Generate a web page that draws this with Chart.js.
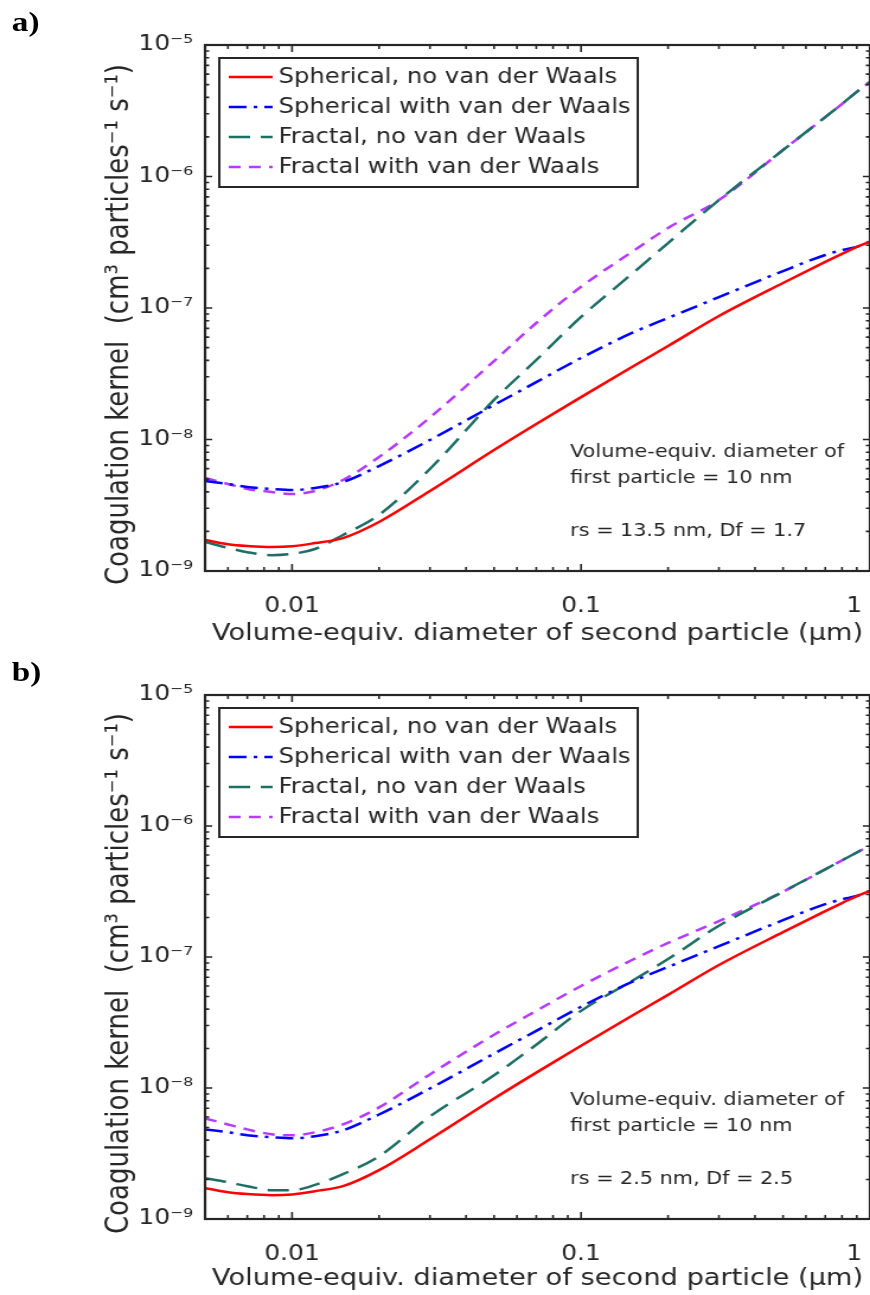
<!DOCTYPE html>
<html>
<head>
<meta charset="utf-8">
<script src="https://cdn.jsdelivr.net/npm/chart.js@4.4.1/dist/chart.umd.min.js"></script>
<style>
  html, body { margin: 0; padding: 0; background: #fff; overflow: hidden; }
  /* the source figure is stretched horizontally, so the whole page is drawn narrow and scaled */
  #fig { position: relative; width: 734px; height: 1295px; transform: scaleX(1.1853); transform-origin: 0 0; }
  .panel { position: absolute; left: 0; }
  .tag { position: absolute; left: 10px; font: bold 28px 'Liberation Serif', serif; color: #000; }
</style>
</head>
<body>
<div id="fig">
  <canvas id="chartA" class="panel" style="top:0" width="734" height="650"></canvas>
  <div class="tag" style="top:6px">a)</div>
  <canvas id="chartB" class="panel" style="top:650px" width="734" height="645"></canvas>
  <div class="tag" style="top:656px">b)</div>
</div>
<script>
const AXIS_COLOR = '#262626';
const FONT = "'DejaVu Sans', sans-serif";

// volume-equivalent diameter of the second particle (um)
const diameters = [0.005, 0.006, 0.007, 0.0085, 0.01, 0.012, 0.015, 0.02, 0.03, 0.05,
                   0.07, 0.1, 0.15, 0.2, 0.3, 0.5, 0.7, 0.8, 0.9, 1.0];

// coagulation kernel (cm3 particles-1 s-1), same spherical curves in both panels
const sphericalNoVdw = [1.72e-9, 1.60e-9, 1.55e-9, 1.52e-9, 1.54e-9, 1.63e-9, 1.78e-9, 2.36e-9, 4.06e-9, 8.31e-9,
                        1.31e-8, 2.10e-8, 3.56e-8, 5.14e-8, 8.69e-8, 1.55e-7, 2.24e-7, 2.58e-7, 2.92e-7, 3.20e-7];
const sphericalVdw = [4.83e-9, 4.59e-9, 4.36e-9, 4.21e-9, 4.13e-9, 4.28e-9, 4.75e-9, 6.28e-9, 9.91e-9, 1.83e-8,
                      2.73e-8, 4.17e-8, 6.46e-8, 8.40e-8, 1.21e-7, 1.91e-7, 2.53e-7, 2.76e-7, 2.92e-7, 3.20e-7];

// panel a: rs = 13.5 nm, Df = 1.7
const fractalNoVdwA = [1.66e-9, 1.50e-9, 1.39e-9, 1.32e-9, 1.35e-9, 1.47e-9, 1.88e-9, 2.67e-9, 5.97e-9, 2.00e-8,
                       4.02e-8, 8.55e-8, 1.82e-7, 3.12e-7, 6.62e-7, 1.59e-6, 2.83e-6, 3.56e-6, 4.40e-6, 5.24e-6];
const fractalVdwA = [5.09e-9, 4.59e-9, 4.21e-9, 3.99e-9, 3.85e-9, 4.06e-9, 4.92e-9, 7.36e-9, 1.47e-8, 3.95e-8,
                     7.69e-8, 1.45e-7, 2.67e-7, 4.06e-7, 6.62e-7, 1.59e-6, 2.83e-6, 3.56e-6, 4.40e-6, 5.24e-6];

// panel b: rs = 2.5 nm, Df = 2.5
const fractalNoVdwB = [2.05e-9, 1.91e-9, 1.78e-9, 1.66e-9, 1.66e-9, 1.82e-9, 2.20e-9, 3.01e-9, 6.07e-9, 1.25e-8,
                       2.14e-8, 3.88e-8, 6.56e-8, 9.66e-8, 1.73e-7, 3.15e-7, 4.67e-7, 5.47e-7, 6.28e-7, 7.11e-7];
const fractalVdwB = [5.86e-9, 5.27e-9, 4.83e-9, 4.43e-9, 4.35e-9, 4.59e-9, 5.27e-9, 7.11e-9, 1.27e-8, 2.55e-8,
                     3.88e-8, 6.01e-8, 9.48e-8, 1.28e-7, 1.88e-7, 3.15e-7, 4.67e-7, 5.47e-7, 6.28e-7, 7.11e-7];

const seriesLabels = ['Spherical, no van der Waals', 'Spherical with van der Waals',
                      'Fractal, no van der Waals', 'Fractal with van der Waals'];

const xMajorTicks = [0.01, 0.1, 1];
// the "1" sits at the cropped right edge, so it is padded to stay on the page
const xTickLabels = ['0.01', '0.1', '1    '];
const yMajorTicks = [1e-9, 1e-8, 1e-7, 1e-6, 1e-5];

const noteA = ['Volume-equiv. diameter of', 'first particle = 10 nm', '', 'rs = 13.5 nm, Df = 1.7'];
const noteB = ['Volume-equiv. diameter of', 'first particle = 10 nm', '', 'rs = 2.5 nm, Df = 2.5'];

const SUP = {'-': '\u207B', '0': '\u2070', '1': '\u00B9', '2': '\u00B2', '3': '\u00B3', '4': '\u2074',
             '5': '\u2075', '6': '\u2076', '7': '\u2077', '8': '\u2078', '9': '\u2079'};

function powerLabel(v) {
    const e = Math.round(Math.log10(v));
    return '10' + String(e).split('').map(c => SUP[c]).join('');
}

function isMajor(v) {
    const l = Math.log10(v);
    return Math.abs(l - Math.round(l)) < 1e-6;
}

function findMajor(list, v) {
    return list.findIndex(m => Math.abs(m - v) / m < 1e-6);
}

// 1..9 x 10^n ticks between min and max
function logTicks(min, max) {
    const out = [];
    for (let e = Math.floor(Math.log10(min)); e <= Math.ceil(Math.log10(max)); e++) {
        for (let m = 1; m <= 9; m++) {
            const v = Number((m * Math.pow(10, e)).toPrecision(6));
            if (v >= min * 0.999 && v <= max * 1.001) out.push(v);
        }
    }
    return out;
}

// MATLAB style box with inward ticks on every side
const framePlugin = {
    id: 'frame',
    afterDatasetsDraw(chart) {
        const {ctx, chartArea: a, scales: {x, y}} = chart;
        ctx.save();
        ctx.strokeStyle = AXIS_COLOR;
        ctx.lineWidth = 1.6;
        ctx.beginPath();
        x.ticks.forEach(t => {
            const px = x.getPixelForValue(t.value);
            const len = isMajor(t.value) ? 7 : 4;
            ctx.moveTo(px, a.bottom); ctx.lineTo(px, a.bottom - len);
            ctx.moveTo(px, a.top); ctx.lineTo(px, a.top + len);
        });
        y.ticks.forEach(t => {
            const py = y.getPixelForValue(t.value);
            const len = isMajor(t.value) ? 6 : 3.5;
            ctx.moveTo(a.left, py); ctx.lineTo(a.left + len, py);
            ctx.moveTo(a.right, py); ctx.lineTo(a.right - len, py);
        });
        ctx.stroke();
        ctx.lineWidth = 2.2;
        ctx.strokeRect(a.left, a.top, a.right - a.left, a.bottom - a.top);
        ctx.restore();
    }
};

// legend box drawn inside the plot, top left
const boxLegendPlugin = {
    id: 'boxLegend',
    afterDraw(chart) {
        const {ctx, chartArea: a} = chart;
        const sets = chart.data.datasets;
        const left = a.left + 12;
        const top = a.top + 13;
        const rowH = 30;
        ctx.save();
        ctx.font = `20.5px ${FONT}`;
        const textW = Math.max(...sets.map(s => ctx.measureText(s.label).width));
        const w = 50 + textW + 6;
        const h = rowH * sets.length + 9;
        ctx.fillStyle = '#fff';
        ctx.fillRect(left, top, w, h);
        ctx.strokeStyle = AXIS_COLOR;
        ctx.lineWidth = 2;
        ctx.strokeRect(left, top, w, h);
        sets.forEach((s, i) => {
            const cy = top + 19 + i * rowH;
            ctx.beginPath();
            ctx.setLineDash(s.borderDash || []);
            ctx.strokeStyle = s.borderColor;
            ctx.lineWidth = s.borderWidth;
            ctx.moveTo(left + 8, cy);
            ctx.lineTo(left + 45, cy);
            ctx.stroke();
            ctx.setLineDash([]);
            ctx.fillStyle = AXIS_COLOR;
            ctx.textBaseline = 'middle';
            ctx.textAlign = 'left';
            ctx.fillText(s.label, left + 50, cy + 1);
        });
        ctx.restore();
    }
};

const notePlugin = {
    id: 'note',
    afterDraw(chart, args, opts) {
        const {ctx, chartArea: a} = chart;
        ctx.save();
        ctx.font = `17.5px ${FONT}`;
        ctx.fillStyle = AXIS_COLOR;
        ctx.textBaseline = 'middle';
        opts.lines.forEach((line, i) => {
            ctx.fillText(line, a.left + 308, a.bottom - 119 + i * 26.5);
        });
        ctx.restore();
    }
};

function makeDatasets(fracNo, fracVdw) {
    const styles = [
        {values: sphericalNoVdw, color: '#ff0000', dash: []},
        {values: sphericalVdw, color: '#0000ff', dash: [15, 6, 3, 6]},
        {values: fracNo, color: '#1d6f66', dash: [18, 9]},
        {values: fracVdw, color: '#b43bff', dash: [10, 7]}
    ];
    return styles.map((s, i) => ({
        label: seriesLabels[i],
        data: diameters.map((d, k) => ({x: d, y: s.values[k]})),
        borderColor: s.color,
        borderDash: s.dash,
        borderWidth: 2.5,
        pointRadius: 0,
        fill: false,
        cubicInterpolationMode: 'monotone'
    }));
}

function renderPanel(id, fracNo, fracVdw, note, xAxisHeight) {
    const canvas = document.getElementById(id);
    return new Chart(canvas.getContext('2d'), {
        type: 'line',
        data: {datasets: makeDatasets(fracNo, fracVdw)},
        plugins: [framePlugin, boxLegendPlugin, notePlugin],
        options: {
            responsive: false,
            animation: false,
            layout: {padding: {top: 45, left: 0, right: 0, bottom: 0}},
            plugins: {
                legend: {display: false},
                tooltip: {enabled: false},
                note: {lines: note}
            },
            scales: {
                x: {
                    type: 'logarithmic',
                    min: 0.005,
                    max: 1,
                    afterBuildTicks: axis => {
                        axis.ticks = logTicks(axis.min, axis.max).map(v => ({value: v}));
                    },
                    afterFit: axis => {
                        axis.height = xAxisHeight;
                        // plot runs off the right edge of the cropped figure
                        axis.paddingRight = 0;
                        axis.paddingLeft = 0;
                    },
                    grid: {display: false, drawTicks: false},
                    border: {display: false},
                    ticks: {
                        autoSkip: false,
                        maxRotation: 0,
                        padding: 23,
                        color: AXIS_COLOR,
                        font: {family: FONT, size: 21},
                        callback: v => {
                            const k = findMajor(xMajorTicks, v);
                            return k >= 0 ? xTickLabels[k] : '';
                        }
                    },
                    title: {
                        display: true,
                        text: 'Volume-equiv. diameter of second particle (\u03BCm)',
                        color: AXIS_COLOR,
                        font: {family: FONT, size: 23},
                        padding: {top: 0, bottom: 2}
                    }
                },
                y: {
                    type: 'logarithmic',
                    min: 1e-9,
                    max: 1e-5,
                    afterBuildTicks: axis => {
                        axis.ticks = logTicks(axis.min, axis.max).map(v => ({value: v}));
                    },
                    afterFit: axis => { axis.width = 173; },
                    grid: {display: false, drawTicks: false},
                    border: {display: false},
                    ticks: {
                        autoSkip: false,
                        padding: 10,
                        color: AXIS_COLOR,
                        font: {family: FONT, size: 21},
                        callback: v => findMajor(yMajorTicks, v) >= 0 ? powerLabel(v) : ''
                    },
                    title: {
                        display: true,
                        text: 'Coagulation kernel  (cm\u00B3 particles\u207B\u00B9 s\u207B\u00B9)    ',
                        color: AXIS_COLOR,
                        font: {family: FONT, size: 26},
                        padding: {top: 86, bottom: 0}
                    }
                }
            }
        }
    });
}

renderPanel('chartA', fractalNoVdwA, fractalVdwA, noteA, 79);
renderPanel('chartB', fractalNoVdwB, fractalVdwB, noteB, 76);
</script>
</body>
</html>
